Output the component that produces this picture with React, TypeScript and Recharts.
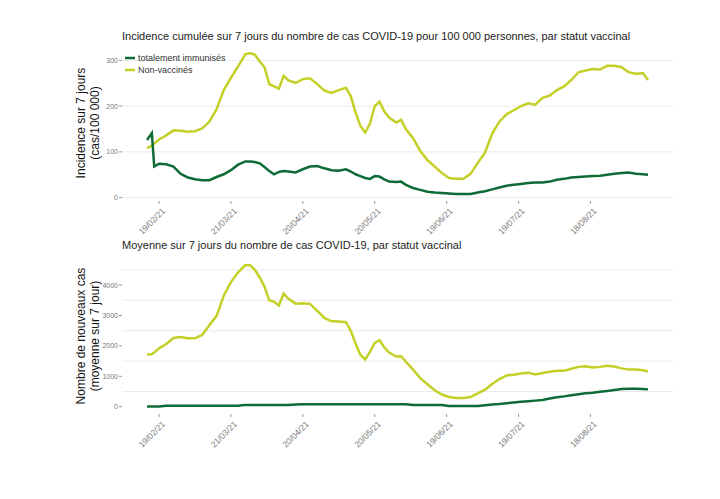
import React from "react";
import { LineChart, Line, XAxis, YAxis, CartesianGrid } from "recharts";

// days counted from 19/02/21
const days = [
    -5, -3, -2, 0, 3, 6, 9, 12, 15, 18, 21, 24, 27, 30, 33, 36, 38, 40, 42, 44, 46, 48, 50, 52, 54, 57, 60, 63,
    66, 69, 72, 75, 78, 80, 82, 84, 86, 88, 90, 92, 94, 96, 99, 101, 103, 106, 109, 112, 115, 118, 121, 124, 127,
    130, 133, 136, 139, 142, 145, 148, 151, 154, 157, 160, 163, 166, 169, 172, 175, 178, 181, 184, 187, 190, 193,
    196, 199, 202, 204,
];

// incidence sur 7 jours (cas/100 000)
const incidenceImmunises = [
    126, 141, 68, 74, 73, 68, 52, 44, 40, 38, 38, 45, 51, 60, 72, 79, 79, 78, 75, 67, 58, 51, 56, 58, 57, 55, 62, 68,
    69, 64, 60, 59, 62, 57, 51, 47, 43, 41, 47, 46, 40, 35, 34, 35, 28, 21, 17, 13, 11, 10, 9, 8, 8,
    8, 11, 14, 18, 22, 26, 28, 30, 32, 33, 33, 35, 39, 41, 44, 45, 46, 47, 48, 50, 52, 54,
    55, 52, 51, 50,
];
const incidenceNonVaccines = [
    108, 114, 118, 127, 136, 147, 146, 144, 145, 151, 166, 193, 235, 262, 287, 313, 316, 312, 298, 285, 248, 243, 238,
    266, 256, 251, 259, 261, 248, 234, 229, 235, 240, 222, 186, 157, 142, 162, 200, 210, 188, 175, 164, 170, 150, 130,
    102, 82, 68, 54, 43, 41, 41, 52, 76, 98, 140, 166, 182, 191, 200, 206, 203, 218, 223, 235, 243, 257, 274, 278,
    281, 280, 288, 288, 285, 274, 271, 272, 257,
];

// moyenne sur 7 jours du nombre de cas
const moyenneImmunises = [
    5, 5, 5, 10, 30, 30, 30, 30, 30, 30, 30, 30, 30, 30, 30, 60, 60, 60, 60, 60, 60, 60, 60, 60, 60, 75, 80, 80,
    80, 80, 80, 80, 80, 80, 80, 80, 80, 80, 80, 80, 80, 80, 80, 80, 80, 55, 55, 55, 55, 55, 20, 20, 20,
    20, 20, 50, 75, 90, 115, 135, 160, 180, 200, 220, 270, 310, 340, 375, 410, 440, 460, 490, 520, 550, 585,
    590, 590, 580, 570,
];
const moyenneNonVaccines = [
    1710, 1730, 1780, 1920, 2060, 2260, 2290, 2250, 2250, 2360, 2680, 2990, 3650, 4100, 4420, 4660, 4650, 4500, 4250,
    3950, 3500, 3450, 3330, 3720, 3550, 3390, 3400, 3380, 3150, 2920, 2810, 2800, 2780, 2500, 2080, 1710, 1550, 1800,
    2100, 2190, 1950, 1780, 1650, 1660, 1480, 1220, 940, 740, 540, 400, 320, 285, 290, 320, 440, 560, 750, 910, 1030,
    1050, 1090, 1120, 1060, 1110, 1150, 1180, 1180, 1250, 1310, 1330, 1290, 1310, 1350, 1320, 1260, 1220, 1220, 1200,
    1160,
];

const xTicks = [0, 30, 60, 90, 120, 150, 180];
const xTickLabels = ["19/02/21", "21/03/21", "20/04/21", "20/05/21", "19/06/21", "19/07/21", "18/08/21"];

const GREEN = "#0f6b35";
const YELLOW = "#c4d027";
const FONT = "'Liberation Sans', Arial, sans-serif";

const data = days.map((d, i) => ({
    day: d,
    incImm: incidenceImmunises[i],
    incNv: incidenceNonVaccines[i],
    moyImm: moyenneImmunises[i],
    moyNv: moyenneNonVaccines[i],
}));

const XTick = (props: any) => {
    const { x, y, payload } = props;
    const idx = xTicks.indexOf(payload.value);
    const tx = x + 3;
    const ty = y + 2;
    return (
        <text
            x={tx}
            y={ty}
            dy="0.6em"
            transform={`rotate(-45 ${tx} ${ty})`}
            textAnchor="end"
            fontSize={8.5}
            fill="#7a7a7a"
            fontFamily={FONT}
        >
            {idx >= 0 ? xTickLabels[idx] : ""}
        </text>
    );
};

const yTickStyle = { fontSize: 7, fill: "#7a7a7a", fontFamily: FONT };

const Title = ({ top, children }: { top: number; children: React.ReactNode }) => (
    <div style={{ position: "absolute", left: 122, top, fontSize: 11, color: "#222", fontFamily: FONT, whiteSpace: "nowrap" }}>
        {children}
    </div>
);

const YTitle = ({ centerY, lines }: { centerY: number; lines: string[] }) => (
    <div
        style={{
            position: "absolute",
            left: 88 - 90,
            top: centerY - 14,
            width: 180,
            height: 28,
            transform: "rotate(-90deg)",
            textAlign: "center",
            fontSize: 12,
            lineHeight: "14px",
            color: "#111",
            fontFamily: FONT,
        }}
    >
        {lines.map((l) => (
            <div key={l}>{l}</div>
        ))}
    </div>
);

export default function App() {
    return (
        <div style={{ position: "fixed", left: 0, top: 0, width: 720, height: 499, background: "#fff" }}>
            {/* Incidence */}
            <div style={{ position: "absolute", left: 0, top: 0 }}>
                <LineChart width={720} height={250} data={data} margin={{ top: 46, right: 47, left: 0, bottom: 0 }}>
                    <CartesianGrid vertical={false} stroke="#ebebeb" horizontalValues={[0, 50, 100, 150, 200, 250, 300]} />
                    <XAxis
                        dataKey="day"
                        type="number"
                        domain={[-15.45, 214.45]}
                        ticks={xTicks}
                        height={49}
                        axisLine={false}
                        tickLine={{ stroke: "#999" }}
                        tickSize={3}
                        tick={<XTick />}
                        interval={0}
                        allowDataOverflow
                    />
                    <YAxis
                        width={122}
                        domain={[-7.4, 331.4]}
                        ticks={[0, 100, 200, 300]}
                        axisLine={false}
                        tickLine={{ stroke: "#999" }}
                        tickSize={3}
                        tickMargin={1}
                        tick={yTickStyle}
                        allowDataOverflow
                    />
                    <Line type="linear" dataKey="incNv" stroke={YELLOW} strokeWidth={2.5} dot={false} isAnimationActive={false} />
                    <Line type="linear" dataKey="incImm" stroke={GREEN} strokeWidth={2.5} dot={false} isAnimationActive={false} />
                </LineChart>
            </div>

            {/* Moyenne */}
            <div style={{ position: "absolute", left: 0, top: 230 }}>
                <LineChart width={720} height={269} data={data} margin={{ top: 27, right: 47, left: 0, bottom: 0 }}>
                    <CartesianGrid
                        vertical={false}
                        stroke="#ebebeb"
                        horizontalValues={[0, 500, 1000, 1500, 2000, 2500, 3000, 3500, 4000, 4500]}
                    />
                    <XAxis
                        dataKey="day"
                        type="number"
                        domain={[-15.45, 214.45]}
                        ticks={xTicks}
                        height={85}
                        axisLine={false}
                        tickLine={{ stroke: "#999" }}
                        tickSize={3}
                        tick={<XTick />}
                        interval={0}
                        allowDataOverflow
                    />
                    <YAxis
                        width={122}
                        domain={[-240, 4924]}
                        ticks={[0, 1000, 2000, 3000, 4000]}
                        axisLine={false}
                        tickLine={{ stroke: "#999" }}
                        tickSize={3}
                        tickMargin={1}
                        tick={yTickStyle}
                        allowDataOverflow
                    />
                    <Line type="linear" dataKey="moyNv" stroke={YELLOW} strokeWidth={2.5} dot={false} isAnimationActive={false} />
                    <Line type="linear" dataKey="moyImm" stroke={GREEN} strokeWidth={2.5} dot={false} isAnimationActive={false} />
                </LineChart>
            </div>

            <Title top={30}>
                Incidence cumulée sur 7 jours du nombre de cas COVID-19 pour 100 000 personnes, par statut vaccinal
            </Title>
            <Title top={239}>Moyenne sur 7 jours du nombre de cas COVID-19, par statut vaccinal</Title>

            <YTitle centerY={123} lines={["Incidence sur 7 jours", "(cas/100 000)"]} />
            <YTitle centerY={336} lines={["Nombre de nouveaux cas", "(moyenne sur 7 jour)"]} />

            {/* legend */}
            <div style={{ position: "absolute", left: 124, top: 52, fontFamily: FONT, fontSize: 9, color: "#333", lineHeight: "12px" }}>
                {[
                    { label: "totalement immunisés", color: GREEN },
                    { label: "Non-vaccinés", color: YELLOW },
                ].map((item) => (
                    <div key={item.label} style={{ display: "flex", alignItems: "center", height: 12 }}>
                        <svg width={14} height={12}>
                            <line x1={1} x2={11} y1={6} y2={6} stroke={item.color} strokeWidth={2.5} />
                        </svg>
                        <span>{item.label}</span>
                    </div>
                ))}
            </div>
        </div>
    );
}
